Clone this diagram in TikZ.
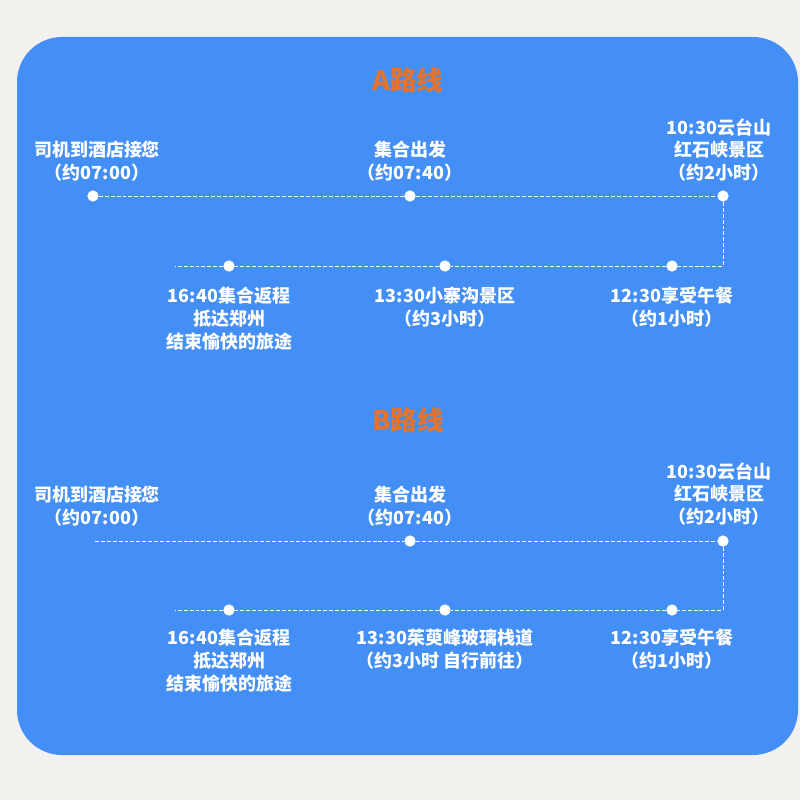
\documentclass[tikz,border=0pt]{standalone}
\usepackage{fontspec}
\setmainfont{Noto Sans CJK SC}
\definecolor{paper}{RGB}{243,241,237}
\definecolor{routeblue}{RGB}{67,143,246}
\definecolor{titleorange}{RGB}{226,116,48}
\tikzset{
  routetitle/.style={titleorange,font=\fontsize{19}{21}\selectfont\bfseries},
  placetext/.style={white,align=center,inner sep=0pt,font=\fontsize{12.8}{16.3}\selectfont\bfseries},
  stopdot/.style={circle,fill=white,inner sep=0pt,minimum size=8pt},
  route/.style={white,line width=0.7pt,dash pattern=on 2.8pt off 1.4pt}
}
\begin{document}
\begin{tikzpicture}[x=0.025cm,y=-0.025cm]
        \useasboundingbox (0,0) rectangle (800,800);
        \fill [paper] (0,0) rectangle (800,800);
        \fill [routeblue, rounded corners=32pt] (17,37) rectangle (798,755);
        % A路线
        \node [routetitle] (titleA) at (408,80) {A路线};
        \node [placetext] (pickA) at (97,161) {司机到酒店接您\\（约07:00）};
        \node [placetext] (meetA) at (410,161) {集合出发\\（约07:40）};
        \node [placetext] (yuntaiA) at (719,150) {10:30云台山\\红石峡景区\\（约2小时）};
        \node [placetext] (lunchA) at (672,307) {12:30享受午餐\\（约1小时）};
        \node [placetext] (sightA) at (445,307) {13:30小寨沟景区\\（约3小时）};
        \node [placetext] (backA) at (229,318.5) {16:40集合返程\\抵达郑州\\结束愉快的旅途};
        \node [stopdot] (A1) at (93,196) {};
        \node [stopdot] (A2) at (410,196) {};
        \node [stopdot] (A3) at (723,196) {};
        \node [stopdot] (A4) at (672,266) {};
        \node [stopdot] (A5) at (445,266) {};
        \node [stopdot] (A6) at (229,266) {};
        \coordinate (Aend) at (175,266);
        \draw [route] (A1) -- (A2) -- (A3) |- (A4) -- (A5) -- (A6) -- (Aend);
        % B路线
        \node [routetitle] (titleB) at (408,420) {B路线};
        \node [placetext] (pickB) at (97,506) {司机到酒店接您\\（约07:00）};
        \node [placetext] (meetB) at (410,506) {集合出发\\（约07:40）};
        \node [placetext] (yuntaiB) at (719,494) {10:30云台山\\红石峡景区\\（约2小时）};
        \node [placetext] (lunchB) at (672,649.5) {12:30享受午餐\\（约1小时）};
        \node [placetext] (sightB) at (445,649.5) {13:30茱萸峰玻璃栈道\\（约3小时 自行前往）};
        \node [placetext] (backB) at (229,661) {16:40集合返程\\抵达郑州\\结束愉快的旅途};
        \coordinate (Bstart) at (95,541);
        \node [stopdot] (B2) at (410,541) {};
        \node [stopdot] (B3) at (723,541) {};
        \node [stopdot] (B4) at (672,610) {};
        \node [stopdot] (B5) at (445,610) {};
        \node [stopdot] (B6) at (229,610) {};
        \coordinate (Bend) at (175,610);
        \draw [route] (Bstart) -- (B2) -- (B3) |- (B4) -- (B5) -- (B6) -- (Bend);
\end{tikzpicture}
\end{document}
